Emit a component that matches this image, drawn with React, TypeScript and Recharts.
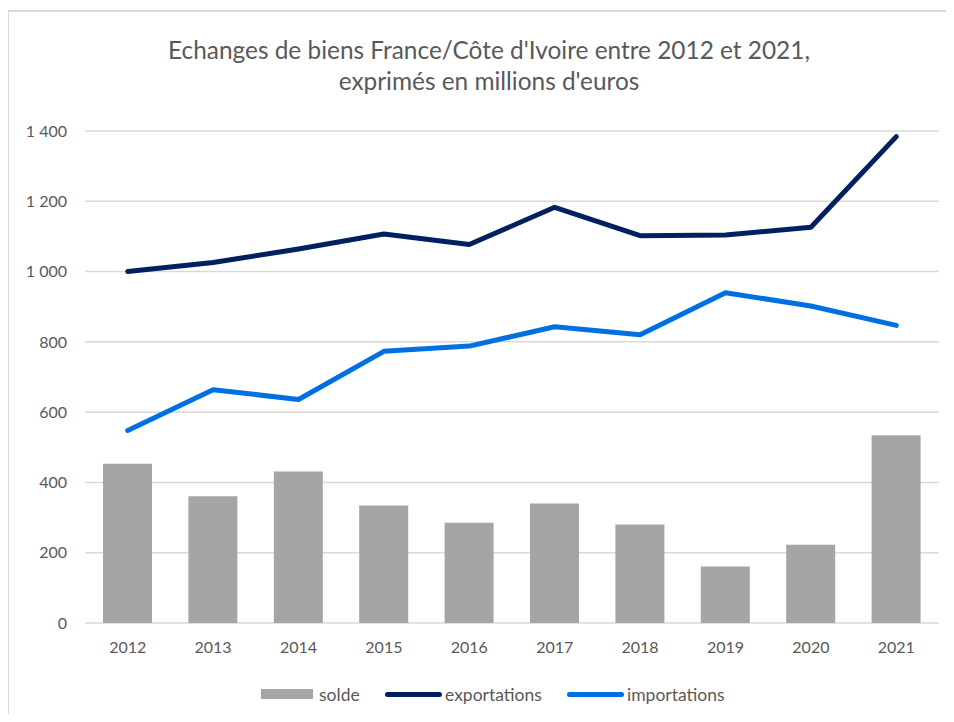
import React from 'react';
import { ComposedChart, Bar, Line, XAxis, YAxis, CartesianGrid, Legend } from 'recharts';

const years = ['2012', '2013', '2014', '2015', '2016', '2017', '2018', '2019', '2020', '2021'];
const solde = [453, 361, 431, 334, 285, 340, 280, 161, 223, 534];
const exportations = [1000, 1026, 1064, 1107, 1077, 1183, 1102, 1104, 1126, 1384];
const importations = [548, 664, 636, 773, 788, 843, 820, 940, 902, 847];
const yTicks = [0, 200, 400, 600, 800, 1000, 1200, 1400];
const seriesOrder = ['solde', 'exportations', 'importations'];

const data = years.map((y, i) => ({
  year: y,
  solde: solde[i],
  exportations: exportations[i],
  importations: importations[i],
}));

const FONT = 'Lato, "Open Sans", sans-serif';
const TEXT = '#595959';

const fmt = (v: number) => String(v).replace(/\B(?=(\d{3})+(?!\d))/g, ' ');

const legendLefts = [253, 377, 559];

const LegendContent = (props: any) => {
  const payload = [...(props.payload || [])].sort(
    (a: any, b: any) => seriesOrder.indexOf(a.value) - seriesOrder.indexOf(b.value)
  );
  return (
    <div style={{ position: 'relative', height: 20, fontFamily: FONT, fontSize: 17.5, color: TEXT }}>
      {payload.map((p: any, i: number) => (
        <div
          key={p.value}
          style={{ position: 'absolute', left: legendLefts[i], top: 0, height: 20, display: 'flex', alignItems: 'center' }}
        >
          {p.type === 'rect' ? (
            <span style={{ display: 'inline-block', width: 52, height: 10, background: p.color, marginRight: 6 }} />
          ) : (
            <span style={{ display: 'inline-block', width: 57, height: 5, borderRadius: 3, background: p.color, marginRight: 3 }} />
          )}
          <span>{p.value}</span>
        </div>
      ))}
    </div>
  );
};

export default function App() {
  return (
    <div style={{ position: 'relative', width: 946, height: 706, overflow: 'hidden', background: '#fff' }}>
      <div
        style={{
          position: 'absolute',
          left: -1,
          top: 2,
          width: 1000,
          height: 1000,
          border: '2px solid #d9d9d9',
          boxSizing: 'border-box',
        }}
      />
      <div
        style={{
          position: 'absolute',
          left: 8,
          top: 26,
          width: 946,
          textAlign: 'center',
          fontFamily: FONT,
          fontSize: 24.4,
          lineHeight: '31px',
          color: TEXT,
        }}
      >
        Echanges de biens France/Côte d'Ivoire entre 2012 et 2021,
        <br />
        exprimés en millions d'euros
      </div>
      <div style={{ position: 'absolute', left: 0, top: 0 }}>
        <ComposedChart
          width={946}
          height={706}
          data={data}
          margin={{ top: 123, right: 15, left: 0, bottom: 10 }}
          barSize={49}
        >
          <CartesianGrid horizontal vertical={false} stroke="#d9d9d9" strokeWidth={1.5} />
          <XAxis
            dataKey="year"
            axisLine={false}
            tickLine={false}
            tickSize={0}
            tickMargin={19}
            height={61}
            tick={{ fill: TEXT, fontSize: 16, fontFamily: FONT }}
          />
          <YAxis
            domain={[0, 1400]}
            ticks={yTicks}
            axisLine={false}
            tickLine={false}
            tickSize={0}
            tickMargin={18}
            width={77}
            tickFormatter={fmt}
            tick={{ fill: TEXT, fontSize: 16, fontFamily: FONT }}
          />
          <Legend verticalAlign="bottom" content={<LegendContent />} />
          <Bar dataKey="solde" name="solde" fill="#a5a5a5" legendType="rect" isAnimationActive={false} />
          <Line
            dataKey="exportations"
            name="exportations"
            stroke="#002060"
            strokeWidth={5}
            strokeLinecap="round"
            strokeLinejoin="round"
            dot={false}
            activeDot={false}
            legendType="line"
            isAnimationActive={false}
          />
          <Line
            dataKey="importations"
            name="importations"
            stroke="#0070e0"
            strokeWidth={5}
            strokeLinecap="round"
            strokeLinejoin="round"
            dot={false}
            activeDot={false}
            legendType="line"
            isAnimationActive={false}
          />
        </ComposedChart>
      </div>
    </div>
  );
}
